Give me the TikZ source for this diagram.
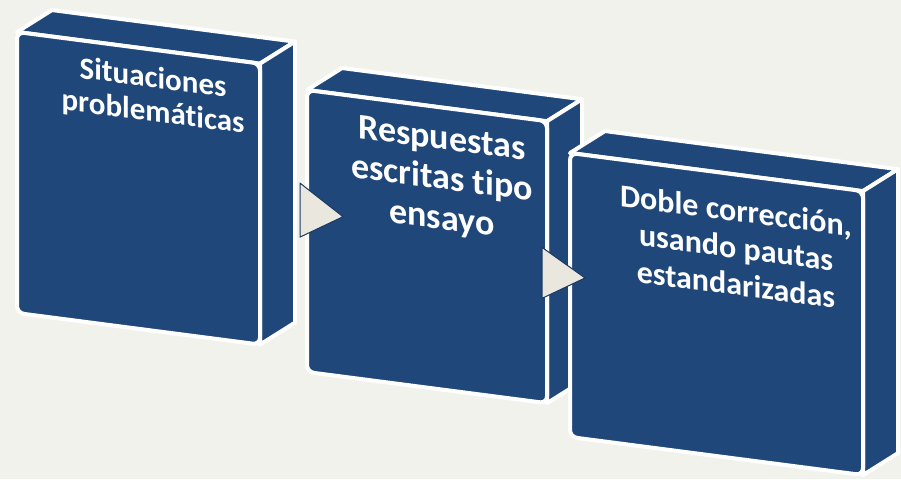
\documentclass[tikz,border=0pt]{standalone}
\usepackage{fontspec}
\setmainfont{Carlito}[Ligatures=NoCommon]
\definecolor{fondo}{HTML}{F2F2EC}
\definecolor{azul}{HTML}{1F477A}
\definecolor{grisflecha}{HTML}{E9E7DE}
\tikzset{
  cara/.style={fill=azul, draw=white, line width=4pt, line join=round},
  frente/.style={cara, rounded corners=7pt, inner sep=0pt, transform shape},
  texto/.style={text=white, align=center, anchor=north, inner sep=0pt, transform shape},
  flecha/.style={fill=grisflecha, draw=azul!80!black, line width=1pt, line join=round}
}
\begin{document}
\begin{tikzpicture}[x=1pt,y=-1pt]
\useasboundingbox (0,0) rectangle (901,479);
\fill[fondo] (0,0) rectangle (901,479);

\begin{scope}[shift={(17,32)},yslant=-0.13]
  \draw[cara] (0,0) -- (35,-26.5) -- (278,-26.5) -- (243,0) -- cycle;
  \draw[cara] (243,0) -- (278,-26.5) -- (278,254.5) -- (243,281) -- cycle;
  \node[frente,minimum width=243,minimum height=281] (caja1) at (121.5,140.5) {};
  \node[texto,font=\bfseries\fontsize{31}{34}\selectfont] (texto1) at (136,16) {Situaciones\\problemáticas};
\end{scope}

\begin{scope}[shift={(307,90)},yslant=-0.13]
  \draw[cara] (0,0) -- (35,-26.5) -- (275,-26.5) -- (240,0) -- cycle;
  \draw[cara] (240,0) -- (275,-26.5) -- (275,255.5) -- (240,282) -- cycle;
  \node[frente,minimum width=240,minimum height=282] (caja2) at (120,141) {};
  \node[texto,font=\bfseries\fontsize{36}{40}\selectfont] (texto2) at (135,18) {Respuestas\\escritas tipo\\ensayo};
  \draw[flecha] (-7,94) -- (36,122) -- (-7,148) -- cycle;
\end{scope}

\begin{scope}[shift={(570,153)},yslant=-0.13]
  \draw[cara] (0,0) -- (35,-26.5) -- (328,-26.5) -- (293,0) -- cycle;
  \draw[cara] (293,0) -- (328,-26.5) -- (328,257.5) -- (293,284) -- cycle;
  \node[frente,minimum width=293,minimum height=284] (caja3) at (146.5,142) {};
  \node[texto,font=\bfseries\fontsize{32}{37}\selectfont] (texto3) at (166,24) {Doble corrección,\\usando pautas\\estandarizadas};
  \draw[flecha] (-28,98) -- (15,123) -- (-28,149) -- cycle;
\end{scope}
\end{tikzpicture}
\end{document}
